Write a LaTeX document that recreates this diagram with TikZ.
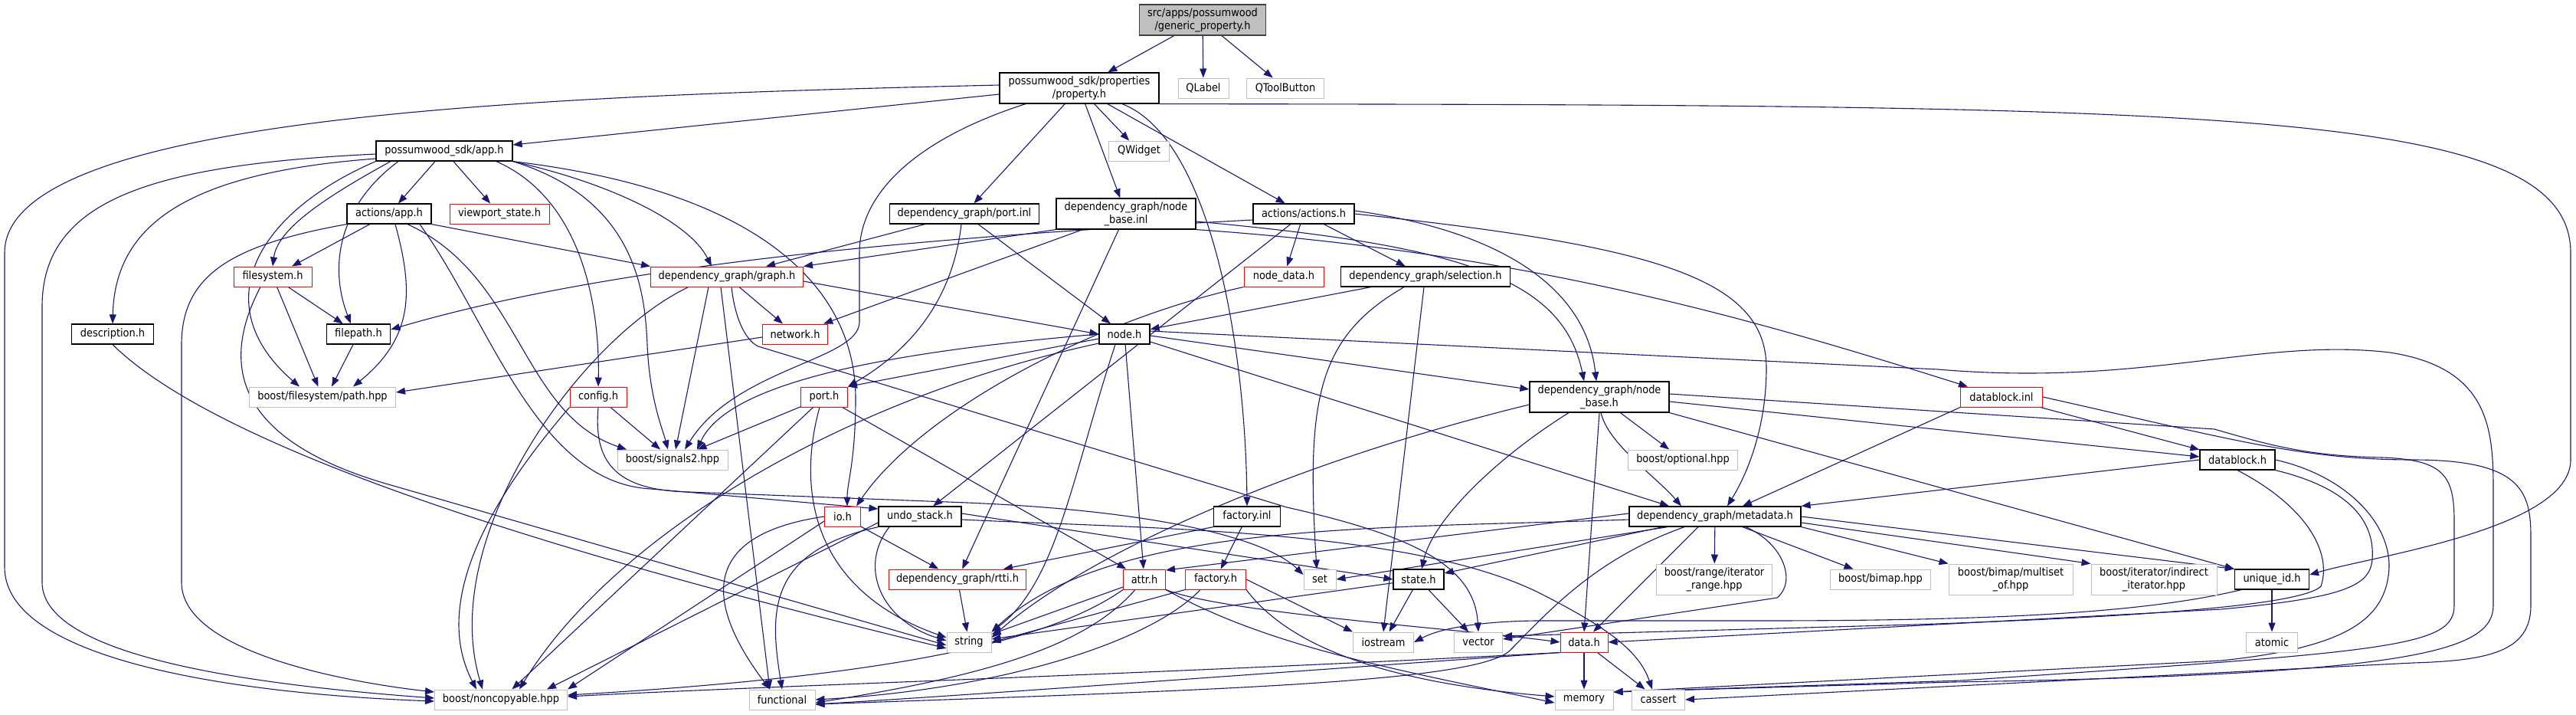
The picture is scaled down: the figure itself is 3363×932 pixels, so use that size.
\documentclass[tikz,border=0pt]{standalone}
\usepackage{fontspec}
\setmainfont{DejaVu Sans Condensed}
\usetikzlibrary{arrows.meta,backgrounds}
\definecolor{depblue}{HTML}{191970}
\definecolor{sysgray}{HTML}{BFBFBF}
\definecolor{rootgray}{HTML}{BFBFBF}
\definecolor{rootedge}{HTML}{404040}
\definecolor{truncred}{HTML}{FF0000}
\newcommand{\gfont}{\fontsize{7.2pt}{8.4pt}\selectfont}

\begin{document}
\begin{tikzpicture}[x=0.5pt,y=-0.5pt,
    box/.style={draw=black,line width=0.6pt,fill=white,inner sep=0pt,
      minimum height=13pt,font=\gfont,align=center},
    tall/.style={minimum height=20pt},
    trunc/.style={box,draw=truncred,line width=0.5pt},
    sysh/.style={box,draw=sysgray,line width=0.5pt},
    root/.style={box,tall,fill=rootgray,draw=rootedge},
    wd/.style={minimum width=#1*0.5pt},
    dep/.style={draw=depblue,line width=0.55pt,-{Triangle[length=6pt,width=4.5pt]}}]
  \useasboundingbox (0,0) rectangle (3363,932);

  % rows of files, top to bottom
  \node[root,wd=165] (gen) at (1570,26) {src/apps/possumwood\\/generic\_property.h};
  \node[box,tall,wd=208] (prop) at (1409,115) {possumwood\_sdk/properties\\/property.h};
  \node[sysh,wd=66] (qlabel) at (1571,115) {QLabel};
  \node[sysh,wd=101] (qtool) at (1678,115) {QToolButton};
  \node[box,wd=178] (app) at (580,197) {possumwood\_sdk/app.h};
  \node[sysh,wd=79] (qwidget) at (1487,197) {QWidget};
  \node[box,wd=110] (actapp) at (508,279) {actions/app.h};
  \node[trunc,wd=130] (viewport) at (652,279) {viewport\_state.h};
  \node[box,wd=195] (portinl) at (1259,279) {dependency\_graph/port.inl};
  \node[box,tall,wd=182] (nbinl) at (1470,279) {dependency\_graph/node\\\_base.inl};
  \node[box,wd=132] (actions) at (1702,279) {actions/actions.h};
  \node[trunc,wd=102] (fs) at (356,361) {filesystem.h};
  \node[trunc,wd=199] (graph) at (949,361) {dependency\_graph/graph.h};
  \node[trunc,wd=104] (nodedata) at (1676,361) {node\_data.h};
  \node[box,wd=221] (selection) at (1861,361) {dependency\_graph/selection.h};
  \node[box,wd=107] (descr) at (147,436) {description.h};
  \node[box,wd=83] (filepath) at (468,436) {filepath.h};
  \node[trunc,wd=85] (network) at (1038,436) {network.h};
  \node[box,wd=66] (node) at (1468,436) {node.h};
  \node[sysh,wd=191] (pathhpp) at (421,518) {boost/filesystem/path.hpp};
  \node[trunc,wd=74] (config) at (781,518) {config.h};
  \node[trunc,wd=61] (port) at (1076,518) {port.h};
  \node[box,tall,wd=182] (nbh) at (2088,518) {dependency\_graph/node\\\_base.h};
  \node[trunc,wd=107] (dbinl) at (2613,518) {datablock.inl};
  \node[sysh,wd=144] (signals) at (878,600) {boost/signals2.hpp};
  \node[sysh,wd=143] (optional) at (2197,600) {boost/optional.hpp};
  \node[box,wd=98] (datablock) at (2921,600) {datablock.h};
  \node[trunc,wd=47] (io) at (1100,674) {io.h};
  \node[box,wd=108] (undo) at (1201,674) {undo\_stack.h};
  \node[box,wd=87] (factinl) at (1628,674) {factory.inl};
  \node[box,wd=224] (metadata) at (2239,674) {dependency\_graph/metadata.h};
  \node[trunc,wd=179] (rtti) at (1250,756) {dependency\_graph/rtti.h};
  \node[trunc,wd=55] (attr) at (1494,756) {attr.h};
  \node[trunc,wd=79] (factory) at (1587,756) {factory.h};
  \node[sysh,wd=42] (set) at (1723,756) {set};
  \node[box,wd=66] (state) at (1852,756) {state.h};
  \node[sysh,tall,wd=151] (range) at (2238,756) {boost/range/iterator\\\_range.hpp};
  \node[sysh,wd=131] (bimap) at (2455,756) {boost/bimap.hpp};
  \node[sysh,tall,wd=162] (multiset) at (2625,756) {boost/bimap/multiset\\\_of.hpp};
  \node[sysh,tall,wd=164] (indirect) at (2812,756) {boost/iterator/indirect\\\_iterator.hpp};
  \node[box,wd=97] (uid) at (2966,756) {unique\_id.h};
  \node[sysh,wd=58] (string) at (1265,838) {string};
  \node[sysh,wd=79] (iostream) at (1806,838) {iostream};
  \node[sysh,wd=63] (vector) at (1930,838) {vector};
  \node[trunc,wd=62] (data) at (2068,838) {data.h};
  \node[sysh,wd=67] (atomic) at (2966,838) {atomic};
  \node[sysh,wd=173] (noncopy) at (654,913) {boost/noncopyable.hpp};
  \node[sysh,wd=86] (functional) at (1021,913) {functional};
  \node[sysh,wd=76] (memory) at (2068,913) {memory};
  \node[sysh,wd=69] (cassert) at (2165,913) {cassert};

  \begin{scope}[on background layer]
  % generic_property.h
  \draw[dep] (gen) -- (prop);
  \draw[dep] (gen) -- (qlabel);
  \draw[dep] (gen) -- (qtool);
  % property.h
  \draw[dep] ([yshift=-4pt]prop.west) -- ([yshift=4pt]app.east);
  \draw[dep] (prop) -- (qwidget);
  \draw[dep] (prop) -- (portinl);
  \draw[dep] (prop) -- (nbinl);
  \draw[dep] (prop) -- (actions);
  \draw[dep] ([xshift=28pt]prop.south) .. controls (1580,180) and (1626,450) .. (factinl.north);
  \draw[dep] (prop.south east) .. controls (2900,137) and (3356,140) .. (3356,330) -- (3356,600)
    .. controls (3356,690) and (3100,725) .. ([yshift=3pt]uid.east);
  \draw[dep] ([yshift=2pt]prop.west) .. controls (700,125) and (6,150) .. (6,330) -- (6,740)
    .. controls (6,860) and (300,905) .. ([yshift=-1pt]noncopy.west);
  \draw[dep] ([xshift=-35pt]prop.south) .. controls (1200,180) and (1122,250) .. (1122,330) -- (1122,420)
    .. controls (1122,470) and (960,480) .. ([xshift=8pt]signals.north);
  % possumwood_sdk/app.h
  \draw[dep] ([yshift=-2pt]app.west) .. controls (200,215) and (55,260) .. (55,400) -- (55,760)
    .. controls (55,860) and (350,895) .. ([yshift=1pt]noncopy.west);
  \draw[dep] ([yshift=-5pt]app.west) .. controls (250,225) and (150,290) .. (descr.north);
  \draw[dep] (app.south west) .. controls (330,280) and (270,400) .. ([xshift=-15pt]pathhpp.north);
  \draw[dep] ([xshift=-35pt]app.south) .. controls (420,260) and (362,300) .. (fs.north);
  \draw[dep] ([xshift=-30pt]app.south) .. controls (440,270) and (430,350) .. ([xshift=-5pt]filepath.north);
  \draw[dep] (app) -- (actapp);
  \draw[dep] (app) -- (viewport);
  \draw[dep] ([xshift=34pt]app.south) .. controls (760,260) and (783,400) .. (config.north);
  \draw[dep] (app.south east) .. controls (1000,250) and (1117,380) .. (1117,520)
    .. controls (1117,600) and (1106,630) .. ([xshift=3pt]io.north);
  \draw[dep] (app.south east) .. controls (800,240) and (900,290) .. ([xshift=-10pt]graph.north);
  \draw[dep] (app.south east) .. controls (830,260) and (842,380) .. (845,450)
    .. controls (848,520) and (865,560) .. ([xshift=-3pt]signals.north);
  % actions/app.h
  \draw[dep] (actapp) -- (fs);
  \draw[dep] (actapp.south west) .. controls (300,320) and (237,360) .. (237,450) -- (237,760)
    .. controls (237,850) and (450,890) .. ([yshift=5pt]noncopy.west);
  \draw[dep] ([xshift=4pt]actapp.south) .. controls (540,380) and (540,440) .. ([xshift=20pt]pathhpp.north);
  \draw[dep] ([xshift=12pt]actapp.south) .. controls (680,360) and (680,540) .. ([xshift=-30pt]signals.north);
  \draw[dep] (actapp.south east) -- (graph.north west);
  \draw[dep] ([xshift=20pt]actapp.south) .. controls (640,420) and (700,630) .. (850,638) -- ([yshift=5pt]undo.west);
  % filesystem.h, description.h, filepath.h, network.h
  \draw[dep] (fs) -- (filepath);
  \draw[dep] (fs) -- (pathhpp);
  \draw[dep] ([xshift=-8pt]fs.south) .. controls (290,470) and (300,570) .. (500,630) -- ([yshift=-2pt]string.west);
  \draw[dep] (descr.south) .. controls (300,600) and (800,740) .. ([yshift=-4pt]string.west);
  \draw[dep] (filepath) -- ([xshift=6pt]pathhpp.north);
  \draw[dep] ([yshift=-2pt]network.west) -- ([yshift=3pt]pathhpp.east);
  % config.h
  \draw[dep] (config.south west) .. controls (650,640) and (560,780) .. ([xshift=-16pt]noncopy.north);
  \draw[dep] (config) -- (signals);
  \draw[dep] (config.south) .. controls (775,600) and (800,640) .. (900,642) -- (1263,656)
    .. controls (1500,666) and (1650,700) .. ([yshift=3pt]set.west);
  % dependency_graph/graph.h
  \draw[dep] (graph) -- (network);
  \draw[dep] ([yshift=-3pt]graph.east) -- (node.west);
  \draw[dep] ([xshift=-12pt]graph.south) -- ([xshift=2pt]signals.north);
  \draw[dep] ([xshift=-25pt]graph.south) .. controls (760,440) and (570,700) .. ([xshift=-12pt]noncopy.north);
  \draw[dep] ([xshift=3pt]graph.south) .. controls (960,420) and (975,445) .. (990,452) -- (1680,662)
    .. controls (1850,700) and (1925,740) .. (vector.north);
  \draw[dep] ([xshift=-4pt]graph.south) -- ([xshift=-8pt]functional.north);
  % dependency_graph/port.inl, node_base.inl
  \draw[dep] (portinl) -- (graph);
  \draw[dep] ([xshift=-2pt]portinl.south) .. controls (1245,380) and (1200,450) .. (port.north east);
  \draw[dep] (portinl) -- (node);
  \draw[dep] (nbinl.south west) -- (graph.north east);
  \draw[dep] (nbinl) -- (network);
  \draw[dep] (nbinl) -- (rtti);
  \draw[dep] ([yshift=-5pt]nbinl.east) .. controls (1900,320) and (2040,360) .. ([xshift=-10pt]nbh.north);
  \draw[dep] (nbinl.south east) .. controls (2000,330) and (2300,420) .. ([xshift=-22pt]dbinl.north);
  % actions/actions.h
  \draw[dep] ([yshift=-4pt]actions.west) .. controls (1200,310) and (800,345) .. ([yshift=3pt]filepath.east);
  \draw[dep] (actions) -- (undo);
  \draw[dep] (actions) -- (nodedata);
  \draw[dep] (actions) -- (selection);
  \draw[dep] ([yshift=2pt]actions.east) .. controls (1950,300) and (2070,370) .. ([xshift=-2pt]nbh.north);
  \draw[dep] (actions.east) .. controls (2150,320) and (2306,360) .. (2306,480)
    .. controls (2306,560) and (2280,620) .. ([xshift=8pt]metadata.north);
  \draw[dep] (nodedata.south west) .. controls (1420,420) and (1200,540) .. ([xshift=9pt]io.north);
  % dependency_graph/selection.h
  \draw[dep] (selection) -- (node);
  \draw[dep] ([xshift=-14pt]selection.south) .. controls (1720,440) and (1705,520) .. ([xshift=-2pt]set.north);
  \draw[dep] ([xshift=-1pt]selection.south) -- (iostream.north);
  % node.h
  \draw[dep] (node.west) .. controls (1150,460) and (950,500) .. ([xshift=16pt]signals.north);
  \draw[dep] ([yshift=-3pt]node.west) -- (port.north east);
  \draw[dep] ([yshift=-6pt]node.west) .. controls (1100,520) and (800,700) .. ([xshift=12pt]noncopy.north);
  \draw[dep] ([xshift=-6pt]node.south) .. controls (1400,620) and (1380,760) .. (string.north east);
  \draw[dep] (node) -- (attr);
  \draw[dep] ([yshift=-1pt]node.east) -- ([yshift=5pt]nbh.west);
  \draw[dep] ([yshift=-5pt]node.east) -- ([xshift=-30pt]metadata.north);
  \draw[dep] ([yshift=2pt]node.east) -- (2530,482) .. controls (2800,505) and (2950,440) .. (3120,460)
    .. controls (3250,480) and (3255,560) .. (3255,640) -- (3255,790)
    .. controls (3255,850) and (3150,880) .. (2550,890) -- ([yshift=5pt]memory.east);
  % port.h
  \draw[dep] (port) -- (signals);
  \draw[dep] (port) -- (noncopy);
  \draw[dep] ([xshift=-3pt]port.south) .. controls (1040,640) and (1060,770) .. ([yshift=3pt]string.west);
  \draw[dep] (port) -- (attr);
  % dependency_graph/node_base.h
  \draw[dep] ([yshift=-5pt]nbh.west) .. controls (1700,600) and (1420,720) .. ([yshift=3pt]string.east);
  \draw[dep] ([xshift=-20pt]nbh.south) .. controls (1950,600) and (1870,680) .. ([xshift=2pt]state.north);
  \draw[dep] (nbh.south) -- (data.north);
  \draw[dep] ([xshift=1pt]nbh.south) .. controls (2100,580) and (2160,620) .. ([xshift=-22pt]metadata.north);
  \draw[dep] (nbh) -- (optional);
  \draw[dep] ([yshift=-3pt]nbh.east) -- ([yshift=2pt]datablock.west);
  \draw[dep] (nbh.south east) -- (uid.north west);
  \draw[dep] ([yshift=2pt]nbh.east) -- (2891,560) .. controls (2960,580) and (3010,595) .. (3110,597)
    .. controls (3190,600) and (3204,620) .. (3204,680) -- (3204,790)
    .. controls (3204,845) and (3120,850) .. (2560,888) -- ([yshift=5pt]memory.east);
  % datablock.inl, datablock.h
  \draw[dep] (dbinl.south west) -- ([xshift=18pt]metadata.north);
  \draw[dep] (dbinl) -- (datablock);
  \draw[dep] (dbinl.east) .. controls (2900,570) and (3000,600) .. (3150,600)
    .. controls (3290,600) and (3304,640) .. (3304,700) -- (3304,790)
    .. controls (3304,850) and (3250,862) .. (3150,865) -- (cassert.east);
  \draw[dep] (datablock.west) -- (metadata.north east);
  \draw[dep] (datablock.south) .. controls (3010,660) and (3045,720) .. (3030,765)
    .. controls (3000,795) and (2700,808) .. (2500,815) -- ([yshift=4pt]vector.east);
  \draw[dep] (datablock.south east) .. controls (3080,640) and (3100,690) .. (3097,730)
    .. controls (3094,765) and (3060,780) .. (2900,795) -- (data.east);
  \draw[dep] (datablock.east) .. controls (3060,620) and (3120,680) .. (3119,740)
    .. controls (3116,810) and (3060,845) .. (2900,862) -- ([yshift=5pt]memory.east);
  % io.h, undo_stack.h, factory.inl
  \draw[dep] (io.west) .. controls (900,700) and (930,800) .. ([xshift=-8pt]functional.north);
  \draw[dep] ([yshift=-3pt]io.west) -- (noncopy.north east);
  \draw[dep] (io) -- (rtti);
  \draw[dep] (undo.south west) .. controls (1000,720) and (1005,800) .. (functional.north);
  \draw[dep] ([yshift=-4pt]undo.west) -- ([xshift=30pt]noncopy.north);
  \draw[dep] ([xshift=-20pt]undo.south) .. controls (1120,740) and (1150,810) .. ([yshift=1pt]string.west);
  \draw[dep] ([yshift=2pt]undo.east) -- (state.west);
  \draw[dep] ([yshift=-2pt]undo.east) .. controls (1500,690) and (1850,690) .. (2016,777)
    .. controls (2100,820) and (2140,850) .. ([xshift=-4pt]cassert.north);
  \draw[dep] (factinl.south west) -- ([xshift=30pt]rtti.north);
  \draw[dep] (factinl) -- (factory);
  \draw[dep] (rtti) -- (string);
  % attr.h, factory.h
  \draw[dep] (attr) -- (string);
  \draw[dep] ([xshift=-6pt]attr.south) .. controls (1420,840) and (1300,880) .. ([yshift=-2pt]functional.east);
  \draw[dep] (attr.south west) .. controls (1380,830) and (1200,880) .. ([yshift=3pt]noncopy.east);
  \draw[dep] (attr.south east) .. controls (1650,840) and (1800,870) .. ([yshift=-2pt]memory.west);
  \draw[dep] (attr.south east) .. controls (1600,800) and (1900,820) .. (data.west);
  \draw[dep] (factory.south west) -- (string.east);
  \draw[dep] ([xshift=-10pt]factory.south) .. controls (1500,840) and (1300,900) .. (functional.east);
  \draw[dep] (factory.south east) .. controls (1680,840) and (1800,890) .. ([yshift=2pt]memory.west);
  \draw[dep] (factory.east) -- (iostream.north west);
  % dependency_graph/metadata.h
  \draw[dep] ([yshift=2pt]metadata.west) -- ([yshift=6pt]attr.east);
  \draw[dep] ([yshift=-2pt]metadata.west) .. controls (1800,690) and (1450,680) .. (string.north east);
  \draw[dep] ([xshift=-31pt]metadata.south) -- (set.east);
  \draw[dep] ([xshift=-34pt]metadata.south) -- ([yshift=4pt]state.east);
  \draw[dep] ([xshift=-20pt]metadata.south) .. controls (2080,730) and (2020,800) .. (1970,850)
    .. controls (1920,890) and (1600,900) .. ([yshift=-3pt]functional.east);
  \draw[dep] ([xshift=-11pt]metadata.south) -- ([xshift=6pt]data.north);
  \draw[dep] (metadata) -- (range);
  \draw[dep] (metadata) -- (bimap);
  \draw[dep] ([xshift=20pt]metadata.south) .. controls (2330,710) and (2345,760) .. (2320,780) -- ([yshift=2pt]vector.east);
  \draw[dep] (metadata.south east) -- (multiset.north west);
  \draw[dep] ([yshift=-4pt]metadata.east) -- (indirect.north west);
  \draw[dep] (metadata.east) -- (uid.north west);
  % state.h, data.h, unique_id.h
  \draw[dep] (state) -- (string);
  \draw[dep] (state) -- (iostream);
  \draw[dep] (state) -- (vector);
  \draw[dep] (data.south west) .. controls (1500,880) and (1000,895) .. ([yshift=2pt]noncopy.east);
  \draw[dep] (data.south west) .. controls (1700,875) and (1300,905) .. ([yshift=-3pt]functional.east);
  \draw[dep] (data) -- (memory);
  \draw[dep] (data) -- (cassert);
  \draw[dep] (uid) -- (atomic);
  \draw[dep] ([xshift=-20pt]uid.south) .. controls (2800,800) and (2600,810) .. (2300,810) -- (2005,810)
    .. controls (1930,811) and (1880,820) .. (iostream.east);
  \end{scope}
\end{tikzpicture}
\end{document}
